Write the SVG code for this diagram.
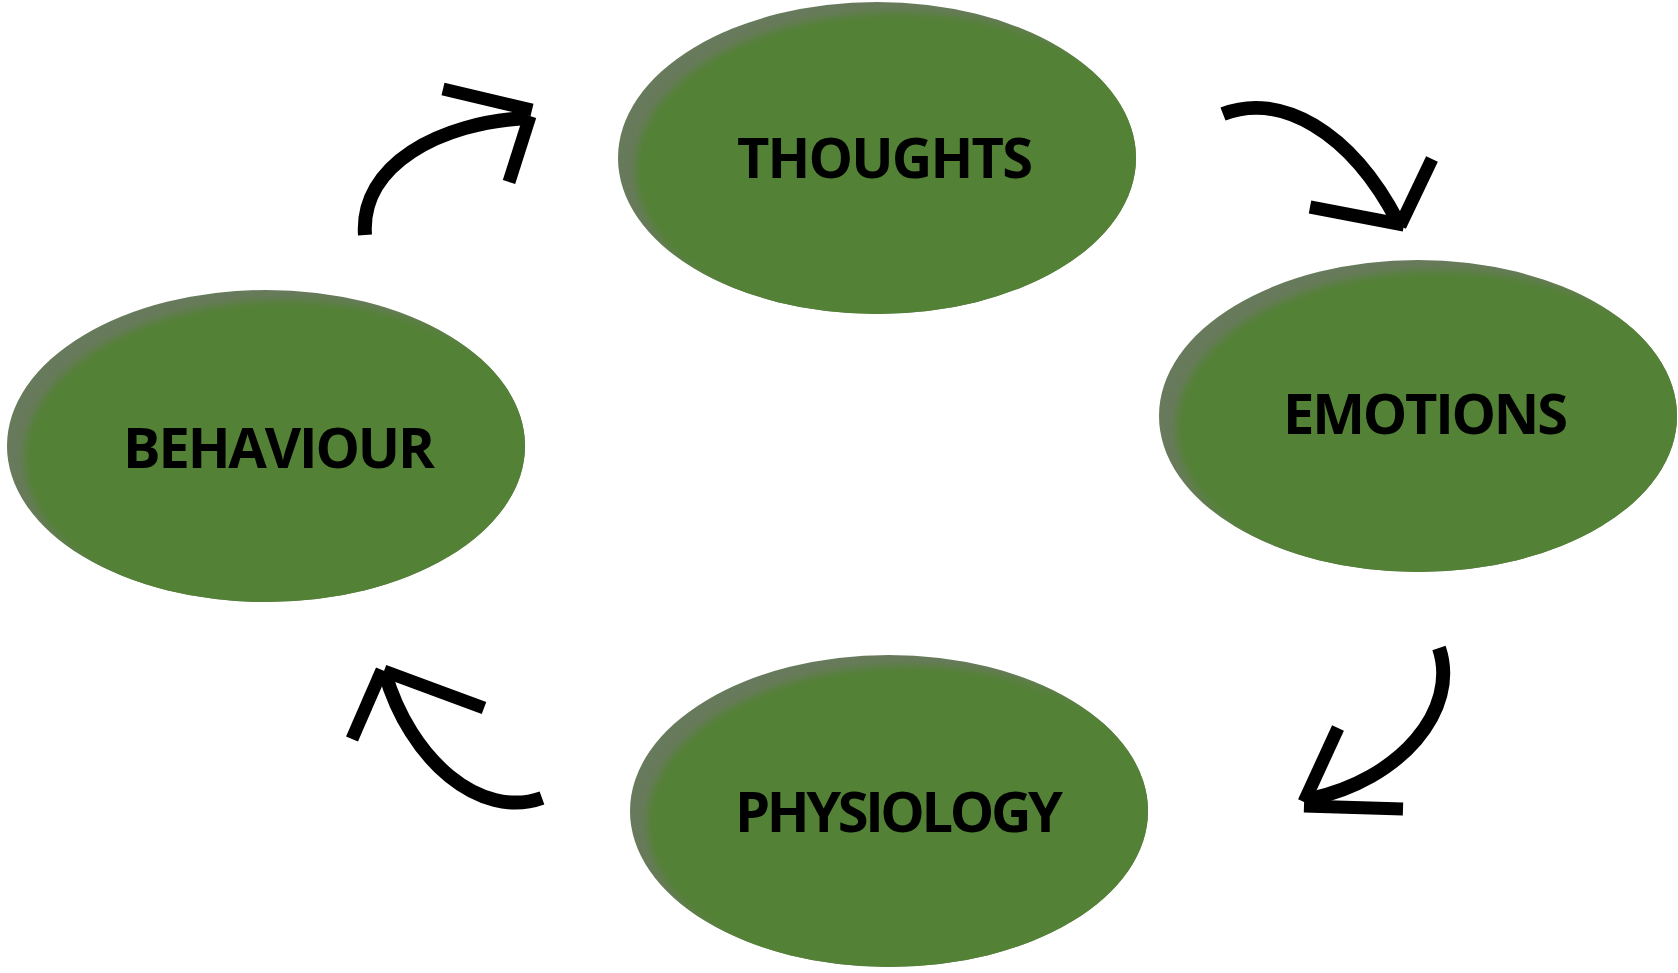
<svg xmlns="http://www.w3.org/2000/svg" width="1678" height="973" viewBox="0 0 1678 973">
<style>
.base{fill:#687a5c}
.face{fill:#538135}
.lbl{font-family:"Open Sans","Noto Sans","Liberation Sans",sans-serif;font-weight:700;font-size:56px;fill:#000;text-anchor:middle}
.arc{fill:none;stroke:#000;stroke-width:14;stroke-linecap:butt}
.head{fill:none;stroke:#000;stroke-width:13;stroke-linecap:butt}
</style>
<defs>
<filter id="soft" x="-10%" y="-10%" width="120%" height="120%"><feGaussianBlur stdDeviation="4"/></filter>
<clipPath id="cT"><ellipse cx="877" cy="158" rx="259" ry="156"/></clipPath>
<clipPath id="cE"><ellipse cx="1418" cy="416" rx="259" ry="156"/></clipPath>
<clipPath id="cB"><ellipse cx="266" cy="446" rx="259" ry="156"/></clipPath>
<clipPath id="cP"><ellipse cx="889" cy="811" rx="259" ry="156"/></clipPath>
</defs>
<g id="node-thoughts">
<ellipse class="base" cx="877" cy="158" rx="259" ry="156"/>
<g clip-path="url(#cT)"><ellipse class="face" cx="897" cy="170" rx="262" ry="158" filter="url(#soft)"/></g>
<text class="lbl" x="885" y="178" textLength="296" lengthAdjust="spacing">THOUGHTS</text>
</g>
<g id="node-emotions">
<ellipse class="base" cx="1418" cy="416" rx="259" ry="156"/>
<g clip-path="url(#cE)"><ellipse class="face" cx="1438" cy="428" rx="262" ry="158" filter="url(#soft)"/></g>
<text class="lbl" x="1425.5" y="434" textLength="285" lengthAdjust="spacing">EMOTIONS</text>
</g>
<g id="node-behaviour">
<ellipse class="base" cx="266" cy="446" rx="259" ry="156"/>
<g clip-path="url(#cB)"><ellipse class="face" cx="286" cy="458" rx="262" ry="158" filter="url(#soft)"/></g>
<text class="lbl" x="279" y="468" textLength="312" lengthAdjust="spacing">BEHAVIOUR</text>
</g>
<g id="node-physiology">
<ellipse class="base" cx="889" cy="811" rx="259" ry="156"/>
<g clip-path="url(#cP)"><ellipse class="face" cx="909" cy="823" rx="262" ry="158" filter="url(#soft)"/></g>
<text class="lbl" x="899" y="832" textLength="328" lengthAdjust="spacing">PHYSIOLOGY</text>
</g>
<g id="connectors">
<path class="arc" d="M 365 235 C 360 165, 440 122, 528 118"/>
<line class="head" x1="443" y1="89" x2="532" y2="110"/>
<line class="head" x1="530" y1="116" x2="509" y2="182"/>
<path class="arc" d="M 1223 114 C 1280 92, 1350 130, 1398 222"/>
<line class="head" x1="1310" y1="207" x2="1404" y2="225"/>
<line class="head" x1="1400" y1="226" x2="1432" y2="159"/>
<path class="arc" d="M 1439 648 C 1460 710, 1400 780, 1310 799"/>
<line class="head" x1="1338" y1="728" x2="1304" y2="802"/>
<line class="head" x1="1304" y1="806" x2="1403" y2="809"/>
<path class="arc" d="M 542 798 C 480 820, 410 760, 385 673"/>
<line class="head" x1="384" y1="671" x2="484" y2="708"/>
<line class="head" x1="382" y1="670" x2="352" y2="739"/>
</g>
</svg>
